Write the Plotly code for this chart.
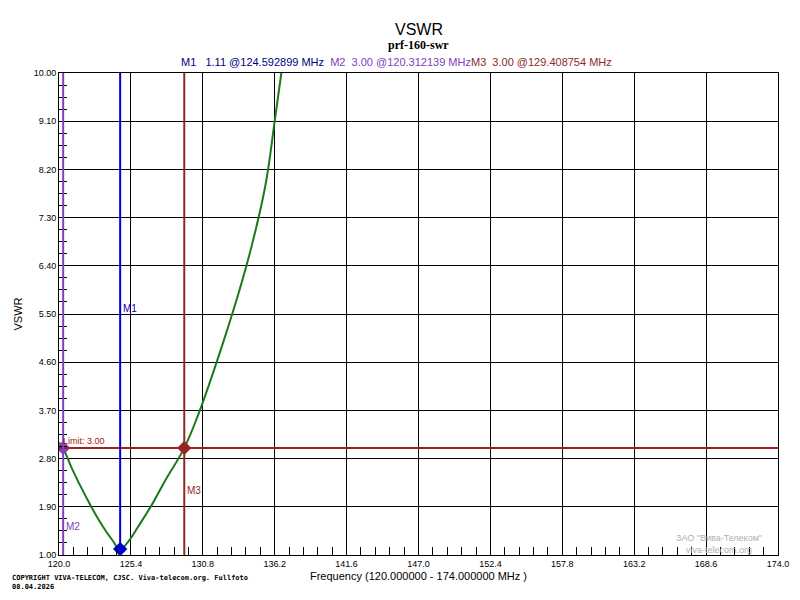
import plotly.graph_objects as go

freq = [120.0,120.3,121.0,122.0,123.0,124.0,124.59,125.2,126.0,127.0,128.0,129.41,130.5,131.5,132.5,133.5,134.5,135.5,136.2,136.7]
vswr = [3.1,3.0,2.6,2.1,1.65,1.28,1.11,1.25,1.55,1.95,2.4,3.0,3.65,4.35,5.1,5.9,6.8,7.9,9.1,10.0]
markers = [("M1",124.592899,1.11,"#0000cc",5.6),("M2",120.312139,3.00,"#8040c0",1.54),("M3",129.408754,3.00,"#902828",2.21)]
limit = 3.0
xticks = [120.0+5.4*i for i in range(11)]
yticks = [1.0+0.9*i for i in range(11)]

fig = go.Figure()
fig.add_trace(go.Scatter(x=freq, y=vswr, mode="lines", line=dict(color="#1a7a1a", width=2, shape="spline", smoothing=1.2), showlegend=False))
fig.add_hline(y=limit, line=dict(color="#a02020", width=2))
for name, f, v, c, ly in markers:
    fig.add_vline(x=f, line=dict(color=c, width=2))
    fig.add_trace(go.Scatter(x=[f], y=[v], mode="markers", marker=dict(symbol="diamond", size=11, color=c), showlegend=False))
    fig.add_annotation(x=f, y=ly, text=name, showarrow=False, xanchor="left", xshift=1, font=dict(size=10, color=c, family="Arial"))
fig.add_annotation(x=120.0, y=limit, text="Limit: 3.00", showarrow=False, xanchor="left", yanchor="bottom", xshift=2, font=dict(size=9, color="#a02020", family="Arial"))

hdr = ("<span style='color:#000080'>M1&nbsp;&nbsp;&nbsp;1.11 @124.592899 MHz&nbsp;&nbsp;</span>"
       "<span style='color:#8040c0'>M2&nbsp;&nbsp;3.00 @120.312139 MHz</span>"
       "<span style='color:#902828'>M3&nbsp;&nbsp;3.00 @129.408754 MHz</span>")
fig.add_annotation(xref="paper", yref="paper", x=0.47, y=1.0, yshift=19, text=hdr, showarrow=False, font=dict(size=11, family="Arial"))
fig.add_annotation(xref="paper", yref="paper", x=0.5, y=1.0, yshift=37, text="<b>prf-160-swr</b>", showarrow=False, font=dict(size=12, family="Liberation Serif", color="black"))
fig.add_annotation(xref="paper", yref="paper", x=0.5, y=1.0, yshift=54, text="VSWR", showarrow=False, font=dict(size=16, family="Arial", color="black"))
fig.add_annotation(xref="paper", yref="paper", x=-0.068, y=-0.035, text="<b>COPYRIGHT VIVA-TELECOM, CJSC. Viva-telecom.org. Fullfoto<br>08.04.2026</b>", showarrow=False, xanchor="left", yanchor="top", align="left", font=dict(size=7, family="DejaVu Sans Mono", color="black"))
fig.add_annotation(xref="paper", yref="paper", x=0.98, y=0.0, yshift=-2, text="ЗАО \"Вива-Телеком\"<br>viva-telecom.org", showarrow=False, xanchor="right", yanchor="bottom", align="center", font=dict(size=9, family="Arial", color="#b0b0b0"))

axcommon = dict(showgrid=True, gridcolor="black", gridwidth=1, showline=True, linecolor="black", linewidth=1, mirror=True,
                ticks="inside", ticklen=0, zeroline=False, automargin=False, tickfont=dict(size=9, family="Arial", color="black"))
fig.update_xaxes(range=[120, 174], tickvals=xticks, ticktext=[f"{t:.1f}" for t in xticks],
                 minor=dict(dtick=1.08, tick0=120, ticks="inside", ticklen=8, tickcolor="black", showgrid=False),
                 title=dict(text="Frequency (120.000000 - 174.000000 MHz )", font=dict(size=11, family="Arial", color="black"), standoff=4), **axcommon)
fig.update_yaxes(range=[1, 10], tickvals=yticks, ticktext=[f"{t:.2f}" for t in yticks],
                 minor=dict(dtick=0.225, tick0=1, ticks="inside", ticklen=8, tickcolor="black", showgrid=False),
                 title=dict(text="VSWR", font=dict(size=11, family="Arial", color="black"), standoff=8), **axcommon)
fig.update_layout(width=800, height=600, margin=dict(l=51, r=30, t=65, b=53, autoexpand=False), plot_bgcolor="white", paper_bgcolor="white")
fig.write_html("out.html")
